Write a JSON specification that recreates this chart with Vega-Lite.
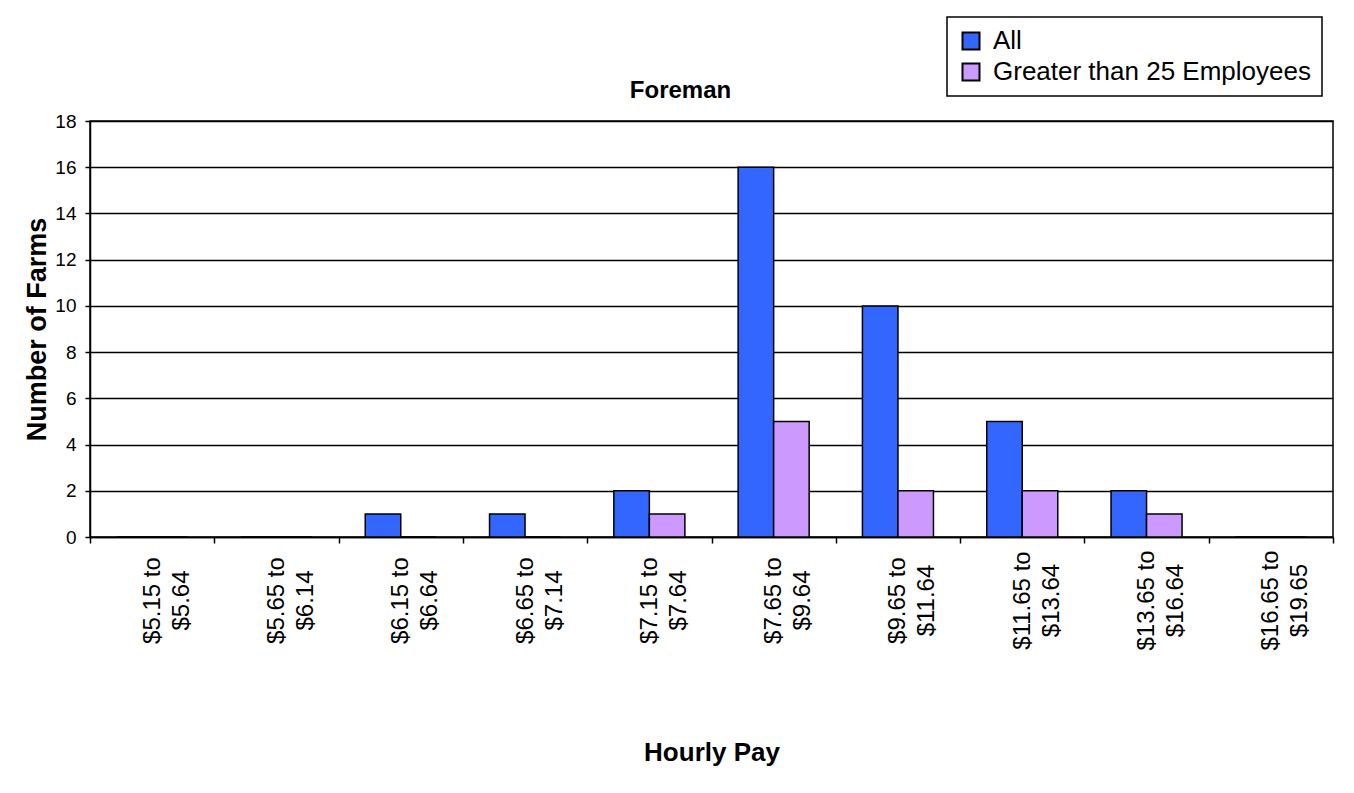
{
  "$schema": "https://vega.github.io/schema/vega-lite/v6.json",
  "width": 1243,
  "height": 416,
  "autosize": {"type": "none"},
  "padding": {"left": 90, "top": 121, "right": 21, "bottom": 256},
  "background": "white",
  "title": {
    "text": "Foreman",
    "font": "Liberation Sans",
    "fontSize": 24,
    "fontWeight": "bold",
    "color": "black",
    "anchor": "middle",
    "frame": "group",
    "baseline": "alphabetic",
    "dx": -31,
    "offset": -106
  },
  "data": {
    "values": [
      {"pay": "$5.15 to|$5.64", "series": "All", "farms": 0},
      {"pay": "$5.15 to|$5.64", "series": "Greater than 25 Employees", "farms": 0},
      {"pay": "$5.65 to|$6.14", "series": "All", "farms": 0},
      {"pay": "$5.65 to|$6.14", "series": "Greater than 25 Employees", "farms": 0},
      {"pay": "$6.15 to|$6.64", "series": "All", "farms": 1},
      {"pay": "$6.15 to|$6.64", "series": "Greater than 25 Employees", "farms": 0},
      {"pay": "$6.65 to|$7.14", "series": "All", "farms": 1},
      {"pay": "$6.65 to|$7.14", "series": "Greater than 25 Employees", "farms": 0},
      {"pay": "$7.15 to|$7.64", "series": "All", "farms": 2},
      {"pay": "$7.15 to|$7.64", "series": "Greater than 25 Employees", "farms": 1},
      {"pay": "$7.65 to|$9.64", "series": "All", "farms": 16},
      {"pay": "$7.65 to|$9.64", "series": "Greater than 25 Employees", "farms": 5},
      {"pay": "$9.65 to|$11.64", "series": "All", "farms": 10},
      {"pay": "$9.65 to|$11.64", "series": "Greater than 25 Employees", "farms": 2},
      {"pay": "$11.65 to|$13.64", "series": "All", "farms": 5},
      {"pay": "$11.65 to|$13.64", "series": "Greater than 25 Employees", "farms": 2},
      {"pay": "$13.65 to|$16.64", "series": "All", "farms": 2},
      {"pay": "$13.65 to|$16.64", "series": "Greater than 25 Employees", "farms": 1},
      {"pay": "$16.65 to|$19.65", "series": "All", "farms": 0},
      {"pay": "$16.65 to|$19.65", "series": "Greater than 25 Employees", "farms": 0}
    ]
  },
  "mark": {"type": "bar", "stroke": "black", "strokeWidth": 1.5},
  "encoding": {
    "x": {
      "field": "pay",
      "type": "nominal",
      "sort": null,
      "scale": {"paddingInner": 0, "paddingOuter": 0},
      "axis": {
        "title": "Hourly Pay",
        "labelExpr": "split(datum.label, '|')",
        "labelAngle": 270,
        "labelAlign": "center",
        "labelBaseline": "middle",
        "labelLineHeight": 29,
        "labelPadding": 57,
        "labelFontSize": 24,
        "tickBand": "extent",
        "tickSize": 6,
        "titlePadding": 89,
        "titleFontSize": 26
      }
    },
    "xOffset": {
      "field": "series",
      "type": "nominal",
      "sort": ["All", "Greater than 25 Employees"],
      "scale": {"paddingInner": 0, "paddingOuter": 0.75}
    },
    "y": {
      "field": "farms",
      "type": "quantitative",
      "scale": {"domain": [0, 18], "nice": false},
      "axis": {
        "title": "Number of Farms",
        "values": [0, 2, 4, 6, 8, 10, 12, 14, 16, 18],
        "grid": true,
        "gridColor": "black",
        "gridWidth": 1.6,
        "gridOpacity": 1,
        "tickSize": 5,
        "labelPadding": 9,
        "labelFontSize": 19,
        "titlePadding": 3,
        "titleFontSize": 27
      }
    },
    "color": {
      "field": "series",
      "type": "nominal",
      "scale": {"domain": ["All", "Greater than 25 Employees"], "range": ["#3366FF", "#CC99FF"]},
      "legend": {
        "title": null,
        "orient": "none",
        "legendX": 857,
        "legendY": -104,
        "symbolType": "square",
        "symbolSize": 289,
        "symbolStrokeColor": "black",
        "symbolStrokeWidth": 2,
        "symbolOpacity": 1,
        "labelFontSize": 26,
        "labelOffset": 9,
        "labelLimit": 0,
        "labelColor": "black",
        "labelFont": "Liberation Sans",
        "rowPadding": 5,
        "padding": 11,
        "strokeColor": "black"
      }
    }
  },
  "config": {
    "font": "Liberation Sans",
    "view": {"stroke": "black", "strokeWidth": 1.5},
    "legend": {"strokeWidth": 1.5, "fillColor": "white"},
    "axis": {
      "domainColor": "black",
      "domainWidth": 1.5,
      "tickColor": "black",
      "tickWidth": 1.5,
      "labelColor": "black",
      "titleColor": "black",
      "labelFont": "Liberation Sans",
      "titleFont": "Liberation Sans",
      "titleFontWeight": "bold",
      "labelFontWeight": "normal"
    }
  }
}
